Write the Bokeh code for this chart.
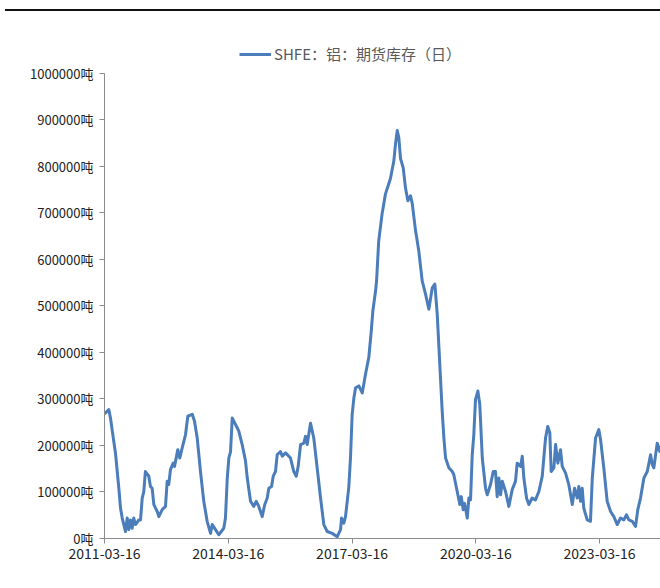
import pandas as pd
from bokeh.plotting import figure
from bokeh.models import (Range1d, FixedTicker, PrintfTickFormatter, Legend, LegendItem,
                          Div, DatetimeTickFormatter)
from bokeh.layouts import column
from bokeh.embed import file_html
from bokeh.resources import INLINE

series_name = "SHFE：铝：期货库存（日）"

dates = [
    "2011-03-16", "2011-04-23", "2011-05-08", "2011-06-06", "2011-06-21", "2011-07-21",
    "2011-08-05", "2011-08-20", "2011-09-03", "2011-09-18", "2011-10-03", "2011-10-17",
    "2011-11-01", "2011-11-16", "2011-11-30", "2011-12-16", "2012-01-14", "2012-01-29",
    "2012-02-13", "2012-02-27", "2012-03-12", "2012-04-11", "2012-04-26", "2012-05-11",
    "2012-05-26", "2012-06-25", "2012-07-09", "2012-08-08", "2012-09-06", "2012-09-21",
    "2012-10-05", "2012-10-20", "2012-11-13", "2012-11-25", "2012-12-24", "2013-01-11",
    "2013-02-01", "2013-03-02", "2013-03-23", "2013-05-01", "2013-05-21", "2013-06-14",
    "2013-07-13", "2013-08-11", "2013-09-10", "2013-10-10", "2013-10-25", "2013-11-23",
    "2013-12-22", "2014-02-04", "2014-02-19", "2014-03-07", "2014-03-21", "2014-04-05",
    "2014-04-20", "2014-05-13", "2014-06-03", "2014-06-17", "2014-07-17", "2014-08-16",
    "2014-08-31", "2014-09-29", "2014-10-28", "2014-11-18", "2014-12-11", "2015-01-10",
    "2015-02-02", "2015-02-24", "2015-03-10", "2015-04-03", "2015-04-18", "2015-05-08",
    "2015-05-23", "2015-06-21", "2015-07-07", "2015-08-05", "2015-09-18", "2015-10-17",
    "2015-11-08", "2015-11-25", "2015-12-16", "2016-01-14", "2016-01-29", "2016-02-13",
    "2016-03-13", "2016-04-11", "2016-05-11", "2016-06-10", "2016-07-09", "2016-08-08",
    "2016-09-21", "2016-11-05", "2016-12-04", "2016-12-13", "2017-01-02", "2017-01-17",
    "2017-02-15", "2017-03-02", "2017-03-17", "2017-04-01", "2017-04-16", "2017-05-15",
    "2017-06-14", "2017-07-13", "2017-08-11", "2017-09-02", "2017-09-16", "2017-10-10",
    "2017-10-19", "2017-11-07", "2017-12-07", "2018-01-06", "2018-02-19", "2018-03-21",
    "2018-04-05", "2018-04-20", "2018-05-04", "2018-05-19", "2018-06-12", "2018-07-02",
    "2018-07-23", "2018-08-16", "2018-08-31", "2018-09-29", "2018-10-28", "2018-11-27",
    "2018-12-26", "2019-01-25", "2019-02-24", "2019-03-19", "2019-04-09", "2019-05-08",
    "2019-05-23", "2019-06-07", "2019-06-22", "2019-07-21", "2019-08-20", "2019-09-03",
    "2019-10-03", "2019-10-26", "2019-11-08", "2019-11-25", "2019-12-07", "2019-12-31",
    "2020-01-14", "2020-01-29", "2020-02-13", "2020-02-27", "2020-03-13", "2020-04-03",
    "2020-04-20", "2020-05-12", "2020-06-10", "2020-06-25", "2020-07-24", "2020-08-17",
    "2020-09-06", "2020-09-21", "2020-10-06", "2020-10-21", "2020-11-05", "2020-12-04",
    "2021-01-02", "2021-02-01", "2021-03-02", "2021-03-17", "2021-04-16", "2021-05-01",
    "2021-05-15", "2021-06-08", "2021-06-28", "2021-07-28", "2021-08-26", "2021-09-25",
    "2021-10-25", "2021-11-23", "2021-12-13", "2021-12-31", "2022-01-12", "2022-02-05",
    "2022-02-20", "2022-03-12", "2022-04-05", "2022-04-20", "2022-05-19", "2022-06-17",
    "2022-07-18", "2022-08-07", "2022-08-31", "2022-09-14", "2022-09-29", "2022-10-14",
    "2022-10-28", "2022-11-27", "2022-12-26", "2023-01-11", "2023-02-09", "2023-03-10",
    "2023-03-25", "2023-04-23", "2023-05-23", "2023-06-22", "2023-07-21", "2023-08-20",
    "2023-09-18", "2023-10-17", "2023-11-10", "2023-12-01", "2023-12-31", "2024-01-29",
    "2024-02-18", "2024-03-13", "2024-04-12", "2024-05-12", "2024-06-10", "2024-06-25",
    "2024-07-09", "2024-08-08", "2024-08-31", "2024-09-06",
]

inventory = [
    268000, 277000, 259000, 209000, 184000, 108000,
    65000, 44000, 30000, 15000, 44000, 19000,
    40000, 22000, 44000, 30000, 40000, 40000,
    87000, 101000, 144000, 134000, 112000, 108000,
    73000, 58000, 47000, 62000, 69000, 123000,
    116000, 148000, 162000, 155000, 191000, 173000,
    195000, 223000, 263000, 267000, 252000, 216000,
    144000, 80000, 37000, 11000, 30000, 19000,
    8000, 22000, 44000, 130000, 173000, 187000,
    259000, 248000, 238000, 231000, 202000, 166000,
    130000, 80000, 69000, 80000, 69000, 47000,
    73000, 87000, 108000, 112000, 134000, 144000,
    180000, 187000, 177000, 184000, 173000, 144000,
    134000, 155000, 202000, 205000, 220000, 202000,
    248000, 216000, 152000, 87000, 30000, 15000,
    11000, 4000, 19000, 44000, 33000, 47000,
    110000, 173000, 267000, 302000, 324000, 328000,
    313000, 353000, 389000, 446000, 489000, 532000,
    554000, 640000, 698000, 741000, 774000, 812000,
    849000, 877000, 862000, 817000, 797000, 754000,
    726000, 737000, 720000, 662000, 618000, 554000,
    526000, 493000, 539000, 547000, 483000, 345000,
    274000, 216000, 173000, 152000, 144000, 137000,
    101000, 73000, 90000, 62000, 76000, 44000,
    87000, 83000, 180000, 223000, 299000, 317000,
    288000, 173000, 108000, 94000, 116000, 144000,
    144000, 90000, 130000, 94000, 123000, 101000,
    69000, 105000, 123000, 162000, 155000, 177000,
    130000, 87000, 73000, 87000, 83000, 101000,
    134000, 216000, 241000, 227000, 144000, 152000,
    202000, 162000, 191000, 155000, 141000, 116000,
    73000, 108000, 87000, 112000, 80000, 108000,
    65000, 40000, 37000, 130000, 216000, 234000,
    213000, 152000, 80000, 58000, 47000, 30000,
    44000, 40000, 51000, 40000, 37000, 26000,
    62000, 87000, 130000, 144000, 180000, 159000,
    152000, 205000, 187000, 200000,
]

y_ticks = [0, 100000, 200000, 300000, 400000, 500000, 600000, 700000, 800000, 900000, 1000000]
x_tick_labels = ["2011-03-16", "2014-03-16", "2017-03-16", "2020-03-16", "2023-03-16"]

x = [d.to_pydatetime() for d in pd.to_datetime(dates)]
x_ticks = [pd.Timestamp(s).value // 10**6 for s in x_tick_labels]

FONT = "Noto Sans CJK SC"
LINE_COLOR = "#4A7DBA"
AXIS_COLOR = "#8C8C8C"

p = figure(width=660, height=557, x_axis_type="datetime",
           x_range=Range1d(x[0], x[-1]), y_range=Range1d(0, 1075000),
           output_backend="svg", toolbar_location=None,
           min_border_left=104, min_border_right=0, min_border_top=27, min_border_bottom=30)

r = p.line(x, inventory, line_width=3, color=LINE_COLOR, line_join="round")

p.xgrid.visible = False
p.ygrid.visible = False
p.outline_line_color = None

p.xaxis.ticker = FixedTicker(ticks=x_ticks)
p.xaxis.formatter = DatetimeTickFormatter(
    days="%Y-%m-%d", months="%Y-%m-%d", years="%Y-%m-%d",
    hours="%Y-%m-%d", minutes="%Y-%m-%d", seconds="%Y-%m-%d")
p.yaxis.ticker = FixedTicker(ticks=y_ticks)
p.yaxis.formatter = PrintfTickFormatter(format="%d吨")
p.yaxis.bounds = (y_ticks[0], y_ticks[-1])

for ax in (p.xaxis[0], p.yaxis[0]):
    ax.axis_line_color = AXIS_COLOR
    ax.axis_line_width = 1
    ax.major_tick_line_color = AXIS_COLOR
    ax.major_tick_out = 5
    ax.major_tick_in = 0
    ax.minor_tick_line_color = None
    ax.major_label_text_font = FONT
    ax.major_label_text_color = "#222222"

p.xaxis.major_label_text_font_size = "14px"
p.xaxis.major_label_standoff = 4
p.yaxis.major_label_text_font_size = "13px"
p.yaxis.major_label_standoff = 6

legend = Legend(items=[LegendItem(label=series_name, renderers=[r])],
                orientation="horizontal", location=(135, 474),
                glyph_width=32, glyph_height=18, label_standoff=3,
                label_text_font=FONT, label_text_font_size="15px",
                label_text_color="#595959", border_line_color=None,
                background_fill_alpha=0, padding=4, margin=0, spacing=0)
p.add_layout(legend, "center")

top_rule = Div(text="", width=655, height=1, margin=(9, 0, 0, 5),
               styles={"border-top": "2px solid #111111"})

layout = column(top_rule, p, spacing=0)

open("out.html", "w").write(file_html(layout, INLINE))
